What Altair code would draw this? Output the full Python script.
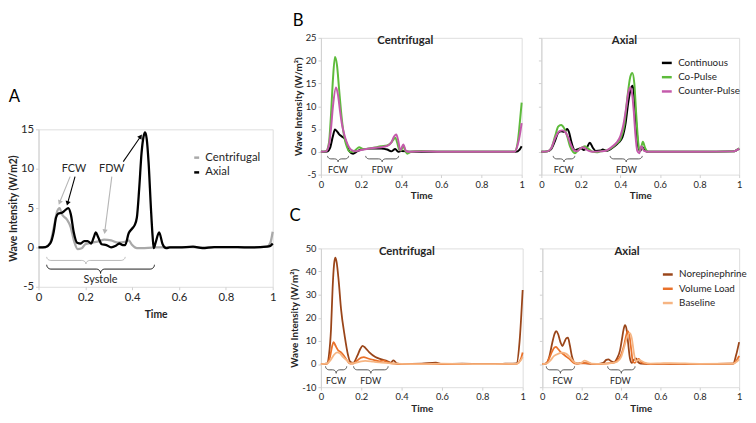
import altair as alt
import pandas as pd
import numpy as np

FONT = "Lato"
TXT = "#262626"
AXC = "#d0d0d0"

# ---------------- Panel A ----------------
A_cent_t = [0, 0.03, 0.05, 0.065, 0.08, 0.09, 0.10, 0.12, 0.137, 0.152, 0.167, 0.185, 0.20, 0.23, 0.26, 0.28, 0.31, 0.34, 0.37, 0.385, 0.40, 0.42, 0.5, 0.6, 0.7, 0.8, 0.9, 0.975, 0.99, 1.0]
A_cent_v = [0, 0.05, 0.6, 2.5, 4.6, 5.0, 4.2, 3.6, 2.6, 0.8, -0.2, -0.1, 0.4, 0.6, 0.8, 1.0, 0.9, 0.6, 0.7, 0.9, 0.3, -0.1, 0.0, 0.05, 0.0, 0.05, 0.0, 0.1, 0.6, 2.0]
A_axial_t = [0, 0.03, 0.05, 0.065, 0.075, 0.085, 0.10, 0.113, 0.127, 0.138, 0.15, 0.165, 0.18, 0.195, 0.21, 0.225, 0.235, 0.245, 0.255, 0.27, 0.29, 0.31, 0.33, 0.345, 0.36, 0.37, 0.385, 0.40, 0.41, 0.42, 0.43, 0.44, 0.448, 0.455, 0.462, 0.47, 0.48, 0.487, 0.492, 0.50, 0.515, 0.53, 0.545, 0.56, 0.6, 0.66, 0.7, 0.75, 0.8, 0.9, 0.975, 0.99, 1.0]
A_axial_v = [0, 0.05, 0.5, 2.0, 3.8, 4.3, 4.4, 4.7, 5.0, 4.2, 2.0, 0.6, 0.5, 0.8, 0.8, 0.5, 1.2, 1.9, 1.3, 0.4, 0.3, 0.0, 0.2, 0.5, 0.3, 0.3, 1.8, 2.4, 2.8, 3.8, 7.5, 12.0, 14.0, 14.6, 13.8, 10.8, 5.0, 1.5, -0.1, 0.6, 1.9, 0.4, -0.1, 0.0, 0.0, 0.1, -0.1, 0.05, 0.05, 0.0, 0.1, 0.2, 0.5]
A_names = ["Centrifugal", "Axial"]
A_colors = ["#a9a9a9", "#000000"]

# ---------------- Panel B ----------------
B_names = ["Continuous", "Co-Pulse", "Counter-Pulse"]
B_colors = ["#000000", "#5dbb3b", "#c45aab"]
Bc_cont_t = [0, 0.03, 0.045, 0.06, 0.07, 0.08, 0.09, 0.10, 0.11, 0.12, 0.13, 0.14, 0.16, 0.18, 0.2, 0.25, 0.3, 0.33, 0.35, 0.37, 0.385, 0.4, 0.45, 0.5, 0.6, 0.8, 0.97, 0.99, 1.0]
Bc_cont_v = [0, 0.05, 0.8, 3.5, 4.9, 4.5, 3.9, 3.5, 3.2, 2.8, 1.5, 0.2, -0.4, 0.1, 0.5, 0.7, 0.7, 0.5, 0.1, 0.6, 0.0, 0.2, 0.0, 0.0, 0.0, 0.0, 0.0, 0.5, 1.2]
Bc_co_t = [0, 0.025, 0.04, 0.05, 0.06, 0.07, 0.08, 0.09, 0.10, 0.11, 0.12, 0.13, 0.145, 0.16, 0.175, 0.19, 0.21, 0.25, 0.3, 0.33, 0.35, 0.36, 0.37, 0.38, 0.39, 0.40, 0.41, 0.42, 0.43, 0.45, 0.5, 0.6, 0.8, 0.965, 0.98, 0.99, 1.0]
Bc_co_v = [0, 0.1, 2, 8, 16, 20.8, 19, 14, 9, 5, 2.5, 1.0, 0, 0, 0.5, 1.0, 0.6, 0.8, 1.2, 1.4, 2.0, 2.6, 3.1, 2.0, 0.5, 0.3, 1.4, 0.2, -0.4, 0.0, 0.2, 0.0, 0.0, 0.0, 2, 6, 10.8]
Bc_cp_t = [0, 0.025, 0.04, 0.05, 0.06, 0.075, 0.085, 0.095, 0.105, 0.115, 0.125, 0.14, 0.155, 0.17, 0.2, 0.25, 0.3, 0.33, 0.35, 0.365, 0.375, 0.385, 0.395, 0.41, 0.425, 0.44, 0.5, 0.6, 0.8, 0.965, 0.98, 0.99, 1.0]
Bc_cp_v = [0, 0.1, 1.5, 5, 10, 14.1, 12.5, 9, 6, 4, 2.5, 1.0, 0.3, 0.1, 0.4, 0.8, 1.0, 1.3, 2.0, 3.4, 3.8, 2.5, 0.3, 1.6, 0.1, 0.0, 0.1, 0.0, 0.0, 0.0, 1.5, 3.5, 6.3]

Ba_cont_t = [0, 0.03, 0.05, 0.07, 0.085, 0.10, 0.115, 0.13, 0.14, 0.15, 0.16, 0.17, 0.185, 0.2, 0.215, 0.23, 0.245, 0.26, 0.275, 0.3, 0.31, 0.33, 0.35, 0.37, 0.39, 0.41, 0.425, 0.44, 0.452, 0.462, 0.47, 0.48, 0.49, 0.50, 0.51, 0.525, 0.54, 0.6, 0.8, 0.97, 1.0]
Ba_cont_v = [0, 0.1, 0.6, 2.5, 4.2, 4.5, 4.4, 5.0, 4.3, 2.5, 1.0, 0.3, 0.6, 0.8, 0.4, 0.9, 2.0, 0.9, 0.2, 0.3, 0.5, 0.2, 0.6, 1.2, 2.0, 3.2, 6, 11, 13.8, 14.5, 12, 6, 1.0, 0.2, 1.0, 0.2, 0.0, 0.0, 0.0, 0.1, 0.7]
Ba_co_t = [0, 0.03, 0.05, 0.07, 0.085, 0.10, 0.115, 0.13, 0.145, 0.16, 0.17, 0.185, 0.20, 0.22, 0.24, 0.26, 0.28, 0.3, 0.33, 0.36, 0.38, 0.40, 0.42, 0.435, 0.45, 0.46, 0.47, 0.48, 0.49, 0.497, 0.505, 0.513, 0.525, 0.54, 0.6, 0.8, 0.97, 1.0]
Ba_co_v = [0, 0.1, 0.8, 3.5, 5.5, 5.9, 5.2, 3.5, 1.2, 0.0, -0.3, 0.3, 0.8, 1.2, 0.6, 0.0, -0.1, 0.1, 0.3, 1.0, 1.8, 2.8, 6, 12, 16.5, 17.3, 15, 8, 2, 0.1, 1.0, 2.2, 0.8, 0.0, 0.0, 0.0, 0.1, 0.8]
Ba_cp_t = [0, 0.03, 0.05, 0.07, 0.09, 0.107, 0.12, 0.135, 0.15, 0.165, 0.18, 0.2, 0.21, 0.225, 0.24, 0.26, 0.3, 0.33, 0.36, 0.38, 0.40, 0.415, 0.43, 0.44, 0.449, 0.458, 0.467, 0.475, 0.485, 0.495, 0.505, 0.52, 0.54, 0.6, 0.8, 0.97, 1.0]
Ba_cp_v = [0, 0.1, 0.8, 3.0, 4.5, 4.7, 4.4, 3.2, 1.5, 0.3, 0.1, 0.8, 1.0, 0.6, 0.2, 0.0, 0.1, 0.3, 1.2, 2.0, 3.5, 6, 10, 13, 14.1, 13, 9, 4, 0.2, -0.3, 1.2, 0.2, 0.0, 0.0, 0.0, 0.1, 0.7]

# ---------------- Panel C ----------------
C_names = ["Norepinephrine", "Volume Load", "Baseline"]
C_colors = ["#9a4519", "#e9712a", "#f6b583"]
Cc_ne_t = [0, 0.03, 0.04, 0.05, 0.058, 0.065, 0.071, 0.078, 0.088, 0.10, 0.118, 0.134, 0.145, 0.16, 0.18, 0.195, 0.206, 0.22, 0.24, 0.27, 0.3, 0.33, 0.345, 0.36, 0.375, 0.4, 0.5, 0.57, 0.6, 0.7, 0.8, 0.9, 0.97, 0.985, 1.0]
Cc_ne_v = [0, 0.2, 4, 15, 33, 43, 46, 44, 36, 23.5, 12, 4, 1, 0.5, 3.5, 6.5, 7.9, 7, 5, 3, 2, 1.2, 0.6, 1.6, 0.3, 0.0, 0.2, 0.6, 0.0, 0.2, 0.0, 0.1, 0.3, 10, 32]
Cc_vl_t = [0, 0.03, 0.045, 0.055, 0.063, 0.072, 0.085, 0.10, 0.115, 0.13, 0.145, 0.16, 0.18, 0.2, 0.213, 0.23, 0.26, 0.29, 0.31, 0.33, 0.35, 0.4, 0.5, 0.6, 0.8, 0.97, 0.99, 1.0]
Cc_vl_v = [0, 0.2, 3, 7.5, 9.5, 8, 6, 5, 3.5, 1.5, 0.2, 0.2, 1.5, 2.8, 3.0, 2.5, 1.8, 1.2, 1.5, 0.8, 0.3, 0.0, 0.1, 0.0, 0.0, 0.1, 2, 5]
Cc_bl_t = [0, 0.03, 0.05, 0.065, 0.08, 0.095, 0.11, 0.13, 0.145, 0.17, 0.2, 0.22, 0.26, 0.3, 0.35, 0.4, 0.5, 0.6, 0.8, 0.97, 0.99, 1.0]
Cc_bl_v = [0, 0.2, 2, 4, 5.0, 4.5, 3, 1.5, 0.3, 0.5, 1.2, 1.4, 1.0, 0.6, 0.3, 0.1, 0.0, 0.2, 0.0, 0.1, 1.5, 3]

Ca_ne_t = [0, 0.02, 0.035, 0.05, 0.062, 0.07, 0.08, 0.092, 0.102, 0.112, 0.122, 0.13, 0.14, 0.15, 0.165, 0.18, 0.2, 0.22, 0.25, 0.28, 0.31, 0.325, 0.335, 0.35, 0.365, 0.38, 0.395, 0.405, 0.413, 0.42, 0.428, 0.436, 0.445, 0.455, 0.465, 0.476, 0.487, 0.5, 0.55, 0.6, 0.8, 0.97, 0.985, 1.0]
Ca_ne_v = [0, 0.3, 3, 9, 13, 14.2, 13, 9.5, 7.8, 9.5, 11.2, 11.4, 8, 3.5, 0.5, 0.2, 0.5, 0.3, 0.1, 0.0, 0.5, 1.8, 2.0, 1.2, 0.8, 2.5, 6, 11, 15, 16.8, 15, 9, 2.5, 0.5, 1.8, 2.5, 0.8, 0.2, 0.0, 0.1, 0.0, 0.2, 4, 9.5]
Ca_vl_t = [0, 0.02, 0.035, 0.05, 0.06, 0.07, 0.08, 0.095, 0.11, 0.125, 0.14, 0.155, 0.17, 0.2, 0.22, 0.25, 0.3, 0.33, 0.36, 0.38, 0.40, 0.415, 0.425, 0.434, 0.443, 0.452, 0.46, 0.47, 0.48, 0.49, 0.5, 0.52, 0.55, 0.6, 0.8, 0.97, 0.99, 1.0]
Ca_vl_v = [0, 0.3, 2.5, 5.5, 7, 7.4, 6.5, 5, 4, 3, 2, 0.8, 0.2, 0.3, 0.4, 0.1, 0.0, 0.3, 0.5, 1.5, 4, 8, 12, 14.2, 12, 6, 1.0, 0.5, 1.5, 2.2, 1.0, 0.2, 0.0, 0.1, 0.0, 0.2, 2, 3.5]
Ca_bl_t = [0, 0.02, 0.04, 0.06, 0.08, 0.1, 0.12, 0.14, 0.16, 0.18, 0.2, 0.215, 0.23, 0.25, 0.3, 0.33, 0.36, 0.38, 0.40, 0.415, 0.43, 0.443, 0.455, 0.465, 0.475, 0.49, 0.5, 0.52, 0.55, 0.6, 0.65, 0.8, 0.97, 0.99, 1.0]
Ca_bl_v = [0, 0.2, 1.5, 3.5, 4.4, 4.9, 4.5, 3, 1, 0.2, 0.6, 1.5, 1.0, 0.2, 0.1, 0.2, 0.5, 1.0, 3, 7, 11.5, 13.5, 11, 5, 1.2, 1.8, 1.5, 0.6, 0.2, 0.3, 0.4, 0.1, 0.2, 1.2, 2]

# ---------------- annotations ----------------
# braces: (t_start, t_end, y_top, depth, colour)
A_braces = [(0.035, 0.37, -1.2, 0.9, "#b0b0b0"), (0.035, 0.495, -2.2, 1.1, "#000000")]
Bc_braces = [(0.033, 0.138, -0.9, 1.3, "#404040"), (0.223, 0.387, -0.9, 1.3, "#404040")]
Ba_braces = [(0.06, 0.169, -0.9, 1.3, "#404040"), (0.348, 0.51, -0.9, 1.3, "#404040")]
Cc_braces = [(0.023, 0.128, -1.0, 3.0, "#404040"), (0.162, 0.333, -1.0, 3.0, "#404040")]
Ca_braces = [(0.02, 0.164, -1.0, 3.0, "#404040"), (0.332, 0.471, -1.0, 3.0, "#404040")]
# text labels: (t, y, text)
A_labels = [(0.151, 10.0, "FCW"), (0.313, 10.0, "FDW"), (0.265, -4.1, "Systole")]
Bc_labels = [(0.085, -4.0, "FCW"), (0.305, -4.0, "FDW")]
Ba_labels = [(0.113, -4.0, "FCW"), (0.43, -4.0, "FDW")]
Cc_labels = [(0.075, -7.3, "FCW"), (0.247, -7.3, "FDW")]
Ca_labels = [(0.102, -7.3, "FCW"), (0.396, -7.3, "FDW")]
# panel headings: (t, y, text)
Bc_head = (0.42, 24.3, "Centrifugal")
Ba_head = (0.42, 24.3, "Axial")
Cc_head = (0.426, 48.4, "Centrifugal")
Ca_head = (0.43, 48.4, "Axial")
# arrows: (t_from, y_from, t_to, y_to, colour)
A_arrows = [(0.135, 9.0, 0.090, 5.7, "#b5b5b5"), (0.156, 9.0, 0.124, 5.6, "#000000"),
            (0.313, 9.0, 0.283, 2.0, "#b5b5b5"), (0.362, 10.9, 0.436, 14.1, "#000000")]

XTICKS = [0, 0.2, 0.4, 0.6, 0.8, 1]
HYPHEN = "datum.value < 0 ? '-' + abs(datum.value) : '' + datum.value"


def long_df(series):
    rows = []
    for name, ts, vs in series:
        for i, (t, v) in enumerate(zip(ts, vs)):
            rows.append({"t": t, "v": v, "s": name, "i": i})
    return pd.DataFrame(rows)


def brace_df(braces):
    rows = []
    s = np.linspace(0, np.pi / 2, 9)
    for k, (t0, t1, top, dep, col) in enumerate(braces):
        e = min(0.018, (t1 - t0) / 5)
        mid = top - dep * 0.5
        tip = top - dep
        tc = (t0 + t1) / 2
        pts = []
        pts += list(zip(t0 + e * (1 - np.cos(s)), top - (top - mid) * np.sin(s)))
        pts += list(zip(tc - e + e * np.sin(s), mid - (mid - tip) * (1 - np.cos(s))))
        pts += list(zip(tc + e * (1 - np.cos(s)), tip + (mid - tip) * np.sin(s)))
        pts += list(zip(t1 - e + e * np.sin(s), mid + (top - mid) * (1 - np.cos(s))))
        for i, (t, v) in enumerate(pts):
            rows.append({"t": float(t), "v": float(v), "b": k, "i": i, "c": col})
    return pd.DataFrame(rows)


def make_panel(series, names, colors, ydom, yvals, w, h, ylabels, braces, labels,
               head=None, legend=None, lab_size=9.5, ann_size=9,
               ytitle="Wave Intensity (W/m\u00b2)", stroke=2, arrows=None, tfs=10, xtpad=2):
    xs = alt.Scale(domain=[0, 1], nice=False, zero=False)
    ys = alt.Scale(domain=ydom, nice=False, zero=False)
    xax = alt.Axis(values=XTICKS, format="~g", title="Time", domain=False, grid=False,
                   ticks=True, tickSize=3, tickColor=AXC, labelFlush=False, labelOverlap=False,
                   labelFontSize=lab_size, labelColor=TXT, labelPadding=2,
                   titleFontSize=tfs, titleFontWeight="bold", titleColor=TXT, titlePadding=xtpad)
    if ylabels:
        yax = alt.Axis(values=yvals, labelExpr=HYPHEN, title=ytitle, domain=True, domainColor=AXC,
                       grid=False, ticks=True, tickSize=3, tickColor=AXC, labelFlush=False,
                       labelOverlap=False,
                       labelFontSize=lab_size, labelColor=TXT, labelPadding=2,
                       titleFontSize=tfs, titleFontWeight="bold", titleColor=TXT, titlePadding=2)
    else:
        yax = alt.Axis(values=yvals, labels=False, title=None, domain=True, domainColor=AXC,
                       grid=False, ticks=True, tickSize=3, tickColor=AXC)
    X = lambda f: alt.X(f, scale=xs, axis=xax)
    Y = lambda f: alt.Y(f, scale=ys, axis=yax)
    if legend is None:
        leg = None
    else:
        leg = alt.Legend(title=None, orient="none", legendX=legend[0], legendY=legend[1],
                         symbolType="stroke", symbolSize=legend[2], symbolStrokeWidth=2.5,
                         labelFontSize=legend[3], labelColor=TXT, labelOffset=legend[4],
                         rowPadding=legend[5], padding=0)
    df = long_df(series)
    lines = alt.Chart(df).mark_line(interpolate="monotone", strokeWidth=stroke).encode(
        x=X("t:Q"), y=Y("v:Q"),
        color=alt.Color("s:N", scale=alt.Scale(domain=names, range=colors), legend=leg),
        order=alt.Order("i:Q"),
    )
    bdf = brace_df(braces)
    br = alt.Chart(bdf).mark_line(strokeWidth=0.9).encode(
        x=X("t:Q"), y=Y("v:Q"),
        detail="b:N", order=alt.Order("i:Q"),
        stroke=alt.Stroke("c:N", scale=None),
    )
    ldf = pd.DataFrame(labels, columns=["t", "v", "txt"])
    tx = alt.Chart(ldf).mark_text(fontSize=ann_size, color=TXT, font=FONT).encode(
        x=X("t:Q"), y=Y("v:Q"), text="txt:N")
    layers = [lines, br, tx]
    if head:
        hdf = pd.DataFrame([head], columns=["t", "v", "txt"])
        layers.append(alt.Chart(hdf).mark_text(fontSize=11.5, fontWeight="bold", color=TXT, font=FONT).encode(
            x=X("t:Q"), y=Y("v:Q"), text="txt:N"))
    if arrows:
        adf = pd.DataFrame(arrows, columns=["t", "v", "t2", "v2", "c"])
        sx = w / 1.0
        sy = h / (ydom[1] - ydom[0])
        ang = []
        for a in arrows:
            dx = (a[2] - a[0]) * sx
            dy = -(a[3] - a[1]) * sy
            ang.append(float(np.degrees(np.arctan2(dx, -dy)) % 360))
        adf["ang"] = ang
        shafts = alt.Chart(adf).mark_rule(strokeWidth=1.1).encode(
            x=X("t:Q"), y=Y("v:Q"), x2="t2:Q", y2="v2:Q",
            stroke=alt.Stroke("c:N", scale=None))
        heads = alt.Chart(adf).mark_point(shape="triangle-up", filled=True, size=28, opacity=1).encode(
            x=X("t2:Q"), y=Y("v2:Q"),
            angle=alt.Angle("ang:Q", scale=None),
            fill=alt.Fill("c:N", scale=None), stroke=alt.value(None))
        layers += [shafts, heads]
    return alt.layer(*layers).properties(width=w, height=h)


A = make_panel([("Centrifugal", A_cent_t, A_cent_v), ("Axial", A_axial_t, A_axial_v)],
               A_names, A_colors, [-5, 15], [-5, 0, 5, 10, 15], 238, 160, True, A_braces, A_labels,
               legend=(155, 23, 25, 11.5, 3, 2), lab_size=11.5, ann_size=11,
               ytitle="Wave Intensity (W/m2)", stroke=2.3, arrows=A_arrows, tfs=10.5, xtpad=7)
A = A.properties(title=alt.TitleParams("A", anchor="start", frame="bounds", fontSize=17,
                                       fontWeight="normal", font=FONT, color="#000000", offset=18))

Bc = make_panel([(B_names[0], Bc_cont_t, Bc_cont_v), (B_names[1], Bc_co_t, Bc_co_v), (B_names[2], Bc_cp_t, Bc_cp_v)],
                B_names, B_colors, [-5, 25], [-5, 0, 5, 10, 15, 20, 25], 204, 139, True, Bc_braces, Bc_labels,
                head=Bc_head)
Ba = make_panel([(B_names[0], Ba_cont_t, Ba_cont_v), (B_names[1], Ba_co_t, Ba_co_v), (B_names[2], Ba_cp_t, Ba_cp_v)],
                B_names, B_colors, [-5, 25], [-5, 0, 5, 10, 15, 20, 25], 201, 139, False, Ba_braces, Ba_labels,
                head=Ba_head, legend=(121, 19, 100, 10, 5, 2.5))
Cc = make_panel([(C_names[0], Cc_ne_t, Cc_ne_v), (C_names[1], Cc_vl_t, Cc_vl_v), (C_names[2], Cc_bl_t, Cc_bl_v)],
                C_names, C_colors, [-10, 50], [-10, 0, 10, 20, 30, 40, 50], 205, 141, True, Cc_braces, Cc_labels,
                head=Cc_head, stroke=1.8)
Ca = make_panel([(C_names[0], Ca_ne_t, Ca_ne_v), (C_names[1], Ca_vl_t, Ca_vl_v), (C_names[2], Ca_bl_t, Ca_bl_v)],
                C_names, C_colors, [-10, 50], [-10, 0, 10, 20, 30, 40, 50], 200, 141, False, Ca_braces, Ca_labels,
                head=Ca_head, legend=(121, 20, 100, 10, 5, 2.5), stroke=1.8)

letter = dict(anchor="start", frame="bounds", fontSize=17, fontWeight="normal", font=FONT, color="#000000")
rowB = alt.hconcat(Bc, Ba, spacing=10).resolve_scale(color="independent").properties(
    title=alt.TitleParams("B", offset=3, **letter))
rowC = alt.hconcat(Cc, Ca, spacing=10).resolve_scale(color="independent").properties(
    title=alt.TitleParams("C", offset=18, **letter))
right = alt.vconcat(rowB, rowC, spacing=6).resolve_scale(color="independent")

spacer = alt.Chart(pd.DataFrame({"z": [0]})).mark_text(text="").encode(
    x=alt.value(0), y=alt.value(0)).properties(width=10, height=50,
                                               view=alt.ViewConfig(stroke="transparent", strokeWidth=0))
left = alt.vconcat(spacer, A, spacing=0).resolve_scale(color="independent")

chart = alt.hconcat(left, right, spacing=10).resolve_scale(color="independent").properties(
    padding=0
).configure_view(stroke=None).configure(font=FONT)

chart.save("out.html", embed_options={"renderer": "svg", "actions": False})
